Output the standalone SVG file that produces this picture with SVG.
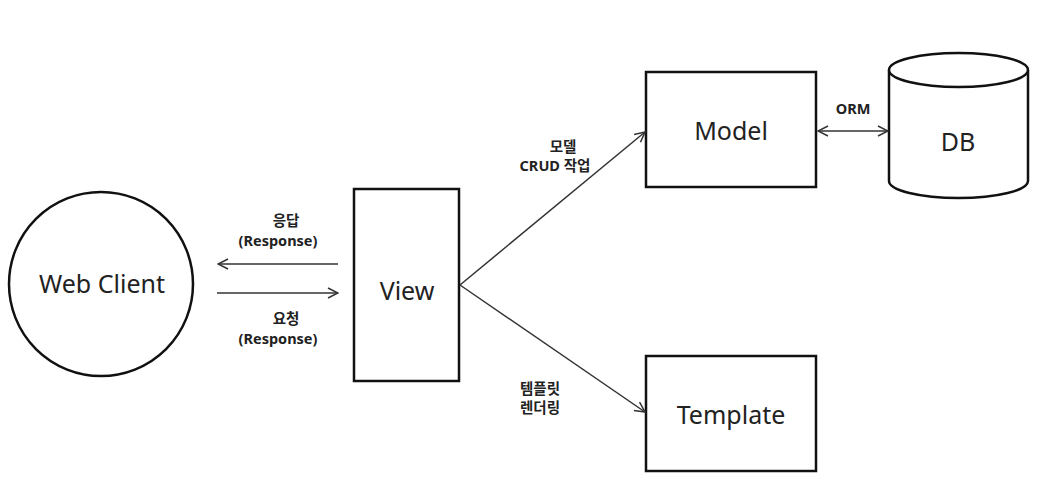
<svg xmlns="http://www.w3.org/2000/svg" width="1045" height="494" viewBox="0 0 1045 494">
<defs>
<style>
.shape{fill:#fff;stroke:#111;stroke-width:2.5}
.node{font-family:"Noto Sans","Noto Sans CJK KR",sans-serif;font-size:25px;fill:#222;text-anchor:middle}
.lbl{font-family:"Noto Sans","Noto Sans CJK KR",sans-serif;font-size:14.5px;font-weight:bold;fill:#222;text-anchor:middle}
.edge{stroke:#333;stroke-width:1.5;fill:none}
</style>
<marker id="ah" viewBox="0 0 12 12" refX="11" refY="6" markerWidth="12" markerHeight="12" markerUnits="userSpaceOnUse" orient="auto-start-reverse">
<path d="M1,1 L11,6 L1,11" fill="none" stroke="#333" stroke-width="1.5"/>
</marker>
</defs>
<rect width="1045" height="494" fill="#fff"/>
<g id="web-client">
<circle class="shape" cx="101" cy="284" r="92"/>
<text class="node" x="102" y="293">Web Client</text>
</g>
<g id="view">
<rect class="shape" x="354" y="189" width="105" height="192"/>
<text class="node" x="407" y="300">View</text>
</g>
<g id="model">
<rect class="shape" x="646" y="72" width="170" height="115"/>
<text class="node" x="731" y="140">Model</text>
</g>
<g id="template">
<rect class="shape" x="646" y="356" width="170" height="115"/>
<text class="node" x="731" y="424">Template</text>
</g>
<g id="db">
<path class="shape" d="M889,70 L889,181 A69.5,17 0 0 0 1028,181 L1028,70"/>
<ellipse class="shape" cx="958.5" cy="70" rx="69.5" ry="17"/>
<text class="node" x="958" y="151">DB</text>
</g>
<g id="connectors">
<line class="edge" x1="338" y1="264" x2="218" y2="264" marker-end="url(#ah)"/>
<line class="edge" x1="217" y1="293" x2="338" y2="293" marker-end="url(#ah)"/>
<line class="edge" x1="460" y1="285" x2="645" y2="132" marker-end="url(#ah)"/>
<line class="edge" x1="460" y1="285" x2="645" y2="412" marker-end="url(#ah)"/>
<line class="edge" x1="818" y1="131" x2="888" y2="131" marker-start="url(#ah)" marker-end="url(#ah)"/>
<text class="lbl" x="286" y="226">응답</text>
<text class="lbl" x="278" y="246">(Response)</text>
<text class="lbl" x="286" y="324">요청</text>
<text class="lbl" x="278" y="344">(Response)</text>
<text class="lbl" x="563" y="152">모델</text>
<text class="lbl" x="555" y="171">CRUD 작업</text>
<text class="lbl" x="540" y="394">템플릿</text>
<text class="lbl" x="540" y="413">렌더링</text>
<text class="lbl" x="853" y="114">ORM</text>
</g>
</svg>
